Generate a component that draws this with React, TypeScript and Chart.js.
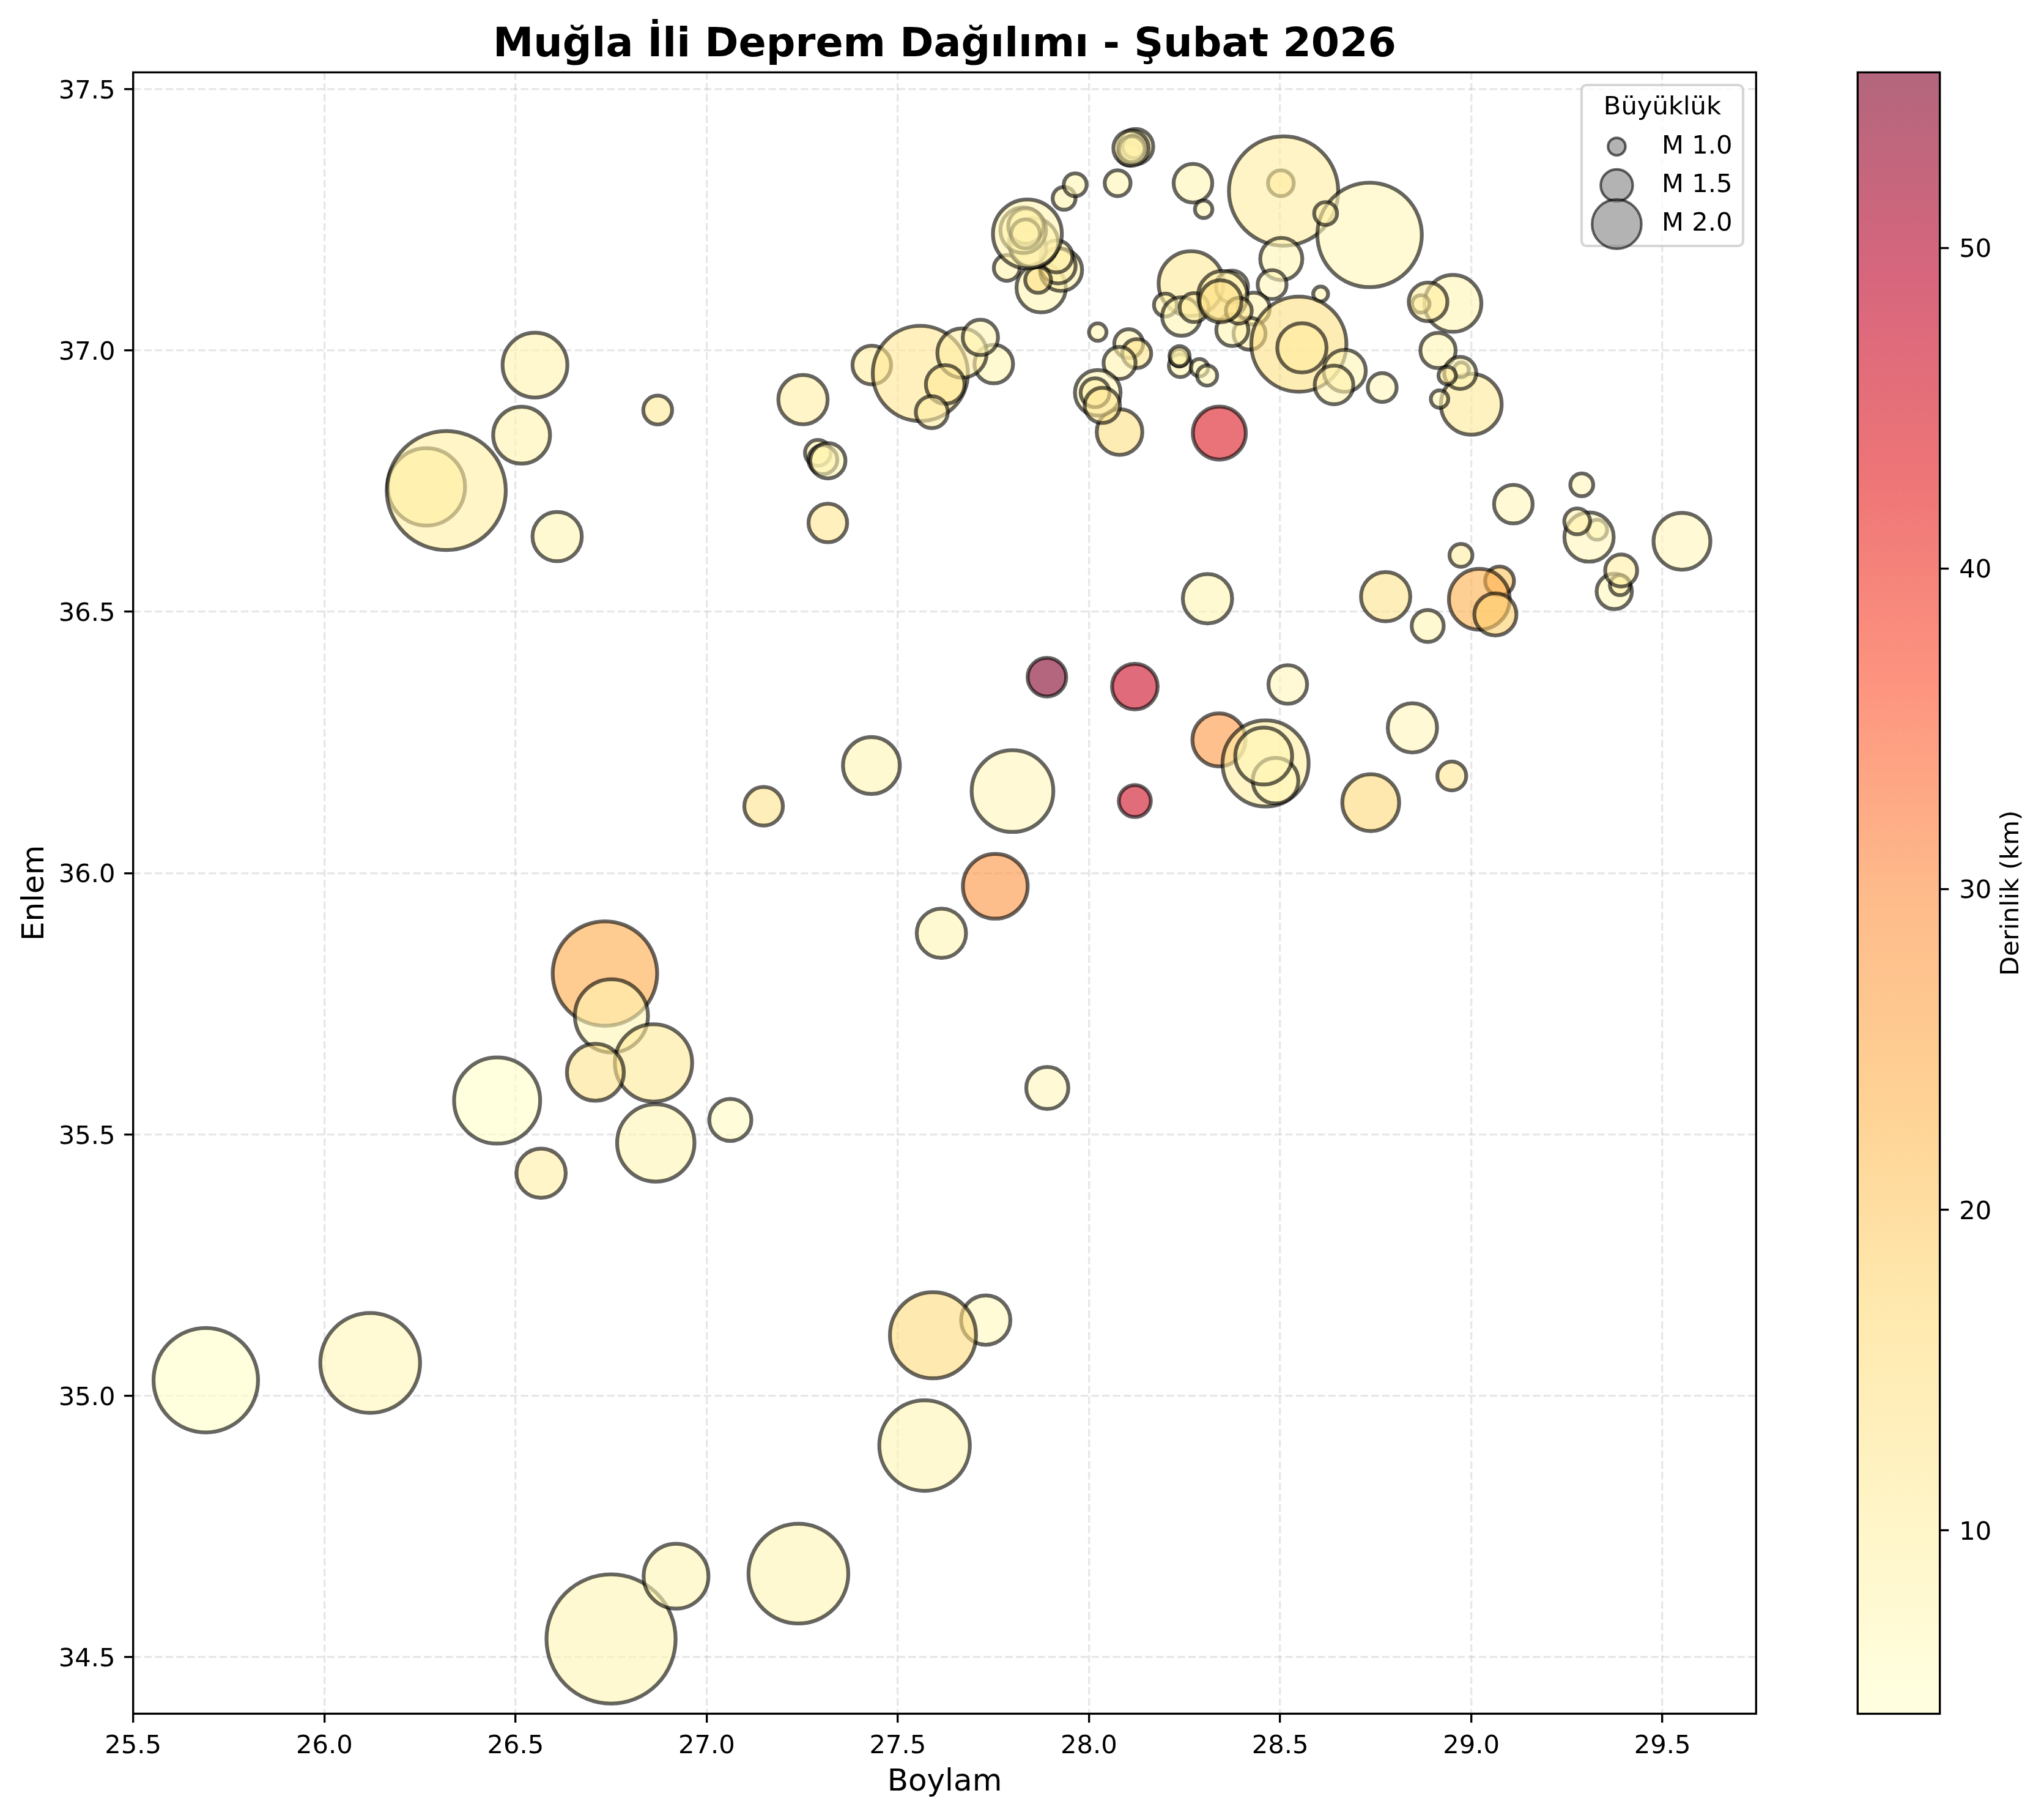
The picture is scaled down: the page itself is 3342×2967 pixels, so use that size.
import { useEffect, useRef } from "react";
import { Chart, registerables } from "chart.js";
Chart.register(...registerables);

const FONT = "'DejaVu Sans'";

const longitudes = [
  25.69, 26.12, 26.75, 26.92, 27.24, 27.57, 27.73, 27.592, 27.891, 27.614,
  27.755, 27.8, 27.149, 27.431, 26.734, 26.751, 26.861, 26.709, 26.452, 26.867,
  27.062, 26.567, 27.89, 28.12, 28.12, 28.341, 28.34, 28.462, 28.488, 28.457,
  28.52, 28.737, 28.846, 28.949, 28.31, 28.776, 28.886, 29.074, 29.021, 29.063,
  28.973, 29.11, 29.289, 29.329, 29.308, 29.277, 29.551, 29.374, 29.389, 29.392,
  26.267, 26.319, 26.551, 26.516, 26.609, 26.872, 27.252, 27.432, 27.291, 27.304,
  27.317, 27.317, 27.559, 27.751, 27.668, 27.716, 27.624, 27.589, 27.785, 27.875,
  27.927, 27.919, 27.915, 27.867, 27.842, 27.855, 27.828, 27.835, 27.834, 27.839,
  27.935, 27.964, 28.075, 28.105, 28.122, 28.118, 28.112, 28.11, 28.272, 28.3,
  28.502, 28.509, 28.734, 28.619, 28.503, 28.479, 28.606, 28.267, 28.431, 28.42,
  28.375, 28.2, 28.242, 28.275, 28.374, 28.35, 28.392, 28.344, 28.549, 28.557,
  28.669, 28.641, 28.767, 28.023, 28.104, 28.125, 28.08, 28.08, 28.023, 28.016,
  28.035, 28.239, 28.236, 28.237, 28.289, 28.309, 28.952, 28.868, 28.887, 28.913,
  29.0, 28.917, 28.974, 28.971, 28.937,
];

const latitudes = [
  35.03, 35.063, 34.535, 34.655, 34.66, 34.905, 35.145, 35.116, 35.589, 35.885,
  35.975, 36.157, 36.128, 36.206, 35.808, 35.727, 35.637, 35.619, 35.565, 35.484,
  35.528, 35.426, 36.375, 36.357, 36.138, 36.842, 36.255, 36.21, 36.177, 36.224,
  36.361, 36.135, 36.278, 36.186, 36.525, 36.529, 36.473, 36.559, 36.524, 36.495,
  36.608, 36.706, 36.743, 36.657, 36.643, 36.673, 36.635, 36.539, 36.551, 36.579,
  36.739, 36.732, 36.972, 36.838, 36.644, 36.886, 36.906, 36.972, 36.804, 36.791,
  36.789, 36.67, 36.956, 36.974, 36.995, 37.025, 36.935, 36.882, 37.158, 37.12,
  37.154, 37.162, 37.18, 37.135, 37.195, 37.206, 37.23, 37.238, 37.223, 37.223,
  37.291, 37.317, 37.32, 37.376, 37.39, 37.39, 37.385, 37.387, 37.32, 37.27,
  37.32, 37.305, 37.221, 37.262, 37.175, 37.126, 37.108, 37.128, 37.08, 37.032,
  37.039, 37.087, 37.065, 37.082, 37.122, 37.105, 37.076, 37.094, 37.012, 37.005,
  36.961, 36.934, 36.929, 37.035, 37.013, 36.994, 36.976, 36.844, 36.919, 36.919,
  36.895, 36.971, 36.986, 36.989, 36.967, 36.952, 37.09, 37.089, 37.093, 37.0,
  36.897, 36.907, 36.963, 36.957, 36.952,
];

const depths = [
  5, 7.5, 8, 8, 8, 8, 6.5, 16, 7, 8,
  29, 7, 14, 8, 25, 8, 12, 14, 5, 8,
  6, 10, 55.4, 47, 46, 44, 28, 11, 7, 8,
  7, 17, 7, 13, 8, 14, 8, 21, 24, 19,
  11, 7, 7, 9, 7, 9, 7, 7, 9, 10,
  11, 10.5, 9, 9, 8, 12, 10, 11, 9, 9,
  8, 13, 13, 8, 10, 8, 12, 10, 9, 8,
  9, 9, 9, 15, 9, 9, 9, 9, 9, 9,
  9, 8, 8, 9, 9, 9, 9, 9, 8, 8,
  10, 11, 7.5, 9, 8, 7, 8, 12, 9, 10,
  8, 9, 8, 11, 7, 10, 12, 15, 15, 11,
  8, 9, 7, 8, 9, 14, 9, 15, 8, 10,
  13, 8, 9, 9, 8, 8, 8, 9, 11, 8,
  12, 8, 10, 8, 12,
];

const magnitudes = [
  3.3, 3.2, 3.8, 2.4, 3.2, 3.0, 2.0, 2.9, 1.8, 2.0,
  2.4, 2.8, 1.7, 2.2, 3.3, 2.6, 2.7, 2.2, 2.9, 2.7,
  1.8, 2.0, 1.7, 1.9, 1.5, 2.1, 2.1, 2.9, 1.9, 2.2,
  1.7, 2.2, 2.0, 1.4, 2.0, 2.0, 1.5, 1.4, 2.3, 1.8,
  1.2, 1.7, 1.2, 1.1, 2.0, 1.3, 2.2, 1.6, 1.1, 1.5,
  2.7, 3.6, 2.4, 2.2, 2.0, 1.4, 2.0, 1.7, 1.3, 1.4,
  1.6, 1.7, 3.1, 1.7, 2.0, 1.6, 1.7, 1.5, 1.3, 2.0,
  1.8, 1.6, 1.5, 1.3, 1.6, 2.0, 1.9, 1.6, 1.4, 2.5,
  1.2, 1.2, 1.3, 1.2, 1.6, 1.2, 1.3, 1.6, 1.7, 1.0,
  1.3, 3.4, 3.3, 1.2, 1.8, 1.4, 0.9, 2.4, 1.5, 1.5,
  1.5, 1.2, 1.7, 1.4, 1.5, 2.0, 1.3, 1.8, 3.1, 2.0,
  1.8, 1.7, 1.4, 1.0, 1.4, 1.4, 1.5, 1.9, 1.9, 1.4,
  1.6, 1.2, 1.0, 1.1, 1.0, 1.1, 2.2, 1.0, 1.7, 1.6,
  2.3, 1.0, 0.9, 1.5, 1.0,
];

const xTickValues = [25.5, 26, 26.5, 27, 27.5, 28, 28.5, 29, 29.5];
const yTickValues = [34.5, 35, 35.5, 36, 36.5, 37, 37.5];
const depthTickValues = [10, 20, 30, 40, 50];
const legendMagnitudes = [1.0, 1.5, 2.0];

const DEPTH_MIN = 4.28;
const DEPTH_MAX = 55.47;

// YlOrRd
const colorStops = [
  [255, 255, 204],
  [255, 237, 160],
  [254, 217, 118],
  [254, 178, 76],
  [253, 141, 60],
  [252, 78, 42],
  [227, 26, 28],
  [189, 0, 38],
  [128, 0, 38],
];

const depthColor = (depth: number) => {
  const t = Math.min(1, Math.max(0, (depth - DEPTH_MIN) / (DEPTH_MAX - DEPTH_MIN)));
  const pos = t * (colorStops.length - 1);
  const i = Math.min(colorStops.length - 2, Math.floor(pos));
  const f = pos - i;
  const c = colorStops[i].map((v, k) => Math.round(v + (colorStops[i + 1][k] - v) * f));
  return `rgba(${c[0]},${c[1]},${c[2]},0.6)`;
};

// marker area grows with the cube of the magnitude
const markerRadius = (mag: number) => (28.5 * Math.pow(mag, 1.5)) / 2;

const LINE = 3.33;
const TICK = 14.6;
const EDGE = "rgba(0,0,0,0.6)";

const framePlugin = {
  id: "frame",
  afterDatasetsDraw(chart: any) {
    const { ctx, chartArea: a } = chart;
    ctx.save();
    ctx.strokeStyle = "#000";
    ctx.lineWidth = LINE;
    ctx.strokeRect(a.left, a.top, a.right - a.left, a.bottom - a.top);
    ctx.restore();
  },
};

const sizeLegendPlugin = {
  id: "sizeLegend",
  afterDraw(chart: any) {
    const { ctx } = chart;
    ctx.save();
    ctx.beginPath();
    ctx.roundRect(2586, 139, 264, 263, 8);
    ctx.fillStyle = "rgba(255,255,255,0.8)";
    ctx.fill();
    ctx.strokeStyle = "rgba(204,204,204,0.8)";
    ctx.lineWidth = 4.17;
    ctx.stroke();

    ctx.fillStyle = "#000";
    ctx.font = `41.67px ${FONT}`;
    ctx.textAlign = "center";
    ctx.textBaseline = "alphabetic";
    ctx.fillText("Büyüklük", 2718, 187);

    legendMagnitudes.forEach((mag, i) => {
      const y = 239.6 + i * 63.4;
      ctx.beginPath();
      ctx.arc(2643.4, y, markerRadius(mag), 0, Math.PI * 2);
      ctx.fillStyle = "rgba(128,128,128,0.6)";
      ctx.fill();
      ctx.strokeStyle = EDGE;
      ctx.lineWidth = 4.17;
      ctx.stroke();
      ctx.fillStyle = "#000";
      ctx.textAlign = "left";
      ctx.fillText(`M ${mag.toFixed(1)}`, 2717, y + 11);
    });
    ctx.restore();
  },
};

const depthLabelPlugin = {
  id: "depthLabel",
  afterDraw(chart: any) {
    const { ctx, chartArea: a } = chart;
    ctx.save();
    ctx.translate(289, (a.top + a.bottom) / 2);
    ctx.rotate(-Math.PI / 2);
    ctx.fillStyle = "#000";
    ctx.font = `41.67px ${FONT}`;
    ctx.textAlign = "center";
    ctx.textBaseline = "middle";
    ctx.fillText("Derinlik (km)", 0, 0);
    ctx.restore();
  },
};

const tickStyle = { color: "#000", font: { size: 41.67 }, padding: TICK, maxRotation: 0, autoSkip: false };
// the empty first line pushes vertical axis labels down onto their tick
const loweredTicks = { ...tickStyle, font: { size: 41.67, lineHeight: 0.2 } };

const App = () => {
  const mainRef = useRef<HTMLCanvasElement>(null);
  const barRef = useRef<HTMLCanvasElement>(null);

  useEffect(() => {
    if (!mainRef.current || !barRef.current) return;
    Chart.defaults.font.family = FONT;
    Chart.defaults.color = "#000";

    const gridStyle = {
      color: "rgba(176,176,176,0.3)",
      lineWidth: LINE,
      tickColor: "#000",
      tickWidth: LINE,
      tickLength: TICK,
    };
    const gridBorder = { display: false, dash: [12.3, 5.3] };

    const main = new Chart(mainRef.current, {
      type: "bubble",
      data: {
        datasets: [
          {
            label: "Deprem",
            data: longitudes.map((x, i) => ({ x, y: latitudes[i], r: markerRadius(magnitudes[i]) })),
            backgroundColor: depths.map(depthColor),
            borderColor: EDGE,
            borderWidth: 6.25,
          },
        ],
      },
      options: {
        animation: false,
        responsive: false,
        devicePixelRatio: 1,
        events: [],
        layout: { padding: { left: 0, right: 128.7, top: 0, bottom: 0 } },
        plugins: {
          legend: { display: false },
          tooltip: { enabled: false },
          title: {
            display: true,
            text: "Muğla İli Deprem Dağılımı - Şubat 2026",
            fullSize: false,
            color: "#000",
            font: { size: 66.67, weight: "bold", lineHeight: 1 },
            padding: { top: 41, bottom: 10.63 },
          },
        },
        scales: {
          x: {
            type: "linear",
            min: 25.5,
            max: 29.745,
            afterBuildTicks: (s: any) => {
              s.ticks = xTickValues.map((value) => ({ value }));
            },
            afterFit: (s: any) => {
              s.height = 165.6;
            },
            grid: gridStyle,
            border: gridBorder,
            ticks: { ...tickStyle, callback: (v: any) => Number(v).toFixed(1) },
            title: {
              display: true,
              text: "Boylam",
              color: "#000",
              font: { size: 50 },
              padding: { top: 0, bottom: 23 },
            },
          },
          y: {
            type: "linear",
            min: 34.392,
            max: 37.532,
            afterBuildTicks: (s: any) => {
              s.ticks = yTickValues.map((value) => ({ value }));
            },
            afterFit: (s: any) => {
              s.width = 217.7;
            },
            grid: gridStyle,
            border: gridBorder,
            ticks: { ...loweredTicks, callback: (v: any) => ["", Number(v).toFixed(1)] },
            title: {
              display: true,
              text: "Enlem",
              color: "#000",
              font: { size: 50 },
              padding: { top: 28, bottom: 0 },
            },
          },
        },
      } as any,
      plugins: [framePlugin, sizeLegendPlugin],
    });

    const bar = new Chart(barRef.current, {
      type: "bar",
      data: {
        labels: ["Derinlik"],
        datasets: [
          {
            label: "Derinlik (km)",
            data: [[DEPTH_MIN, DEPTH_MAX]],
            barPercentage: 1,
            categoryPercentage: 1,
            borderWidth: 0,
            borderSkipped: false,
            backgroundColor: (c: any) => {
              const a = c.chart.chartArea;
              if (!a) return "rgba(0,0,0,0)";
              const g = c.chart.ctx.createLinearGradient(0, a.bottom, 0, a.top);
              colorStops.forEach((s, i) => {
                g.addColorStop(i / (colorStops.length - 1), `rgba(${s[0]},${s[1]},${s[2]},0.6)`);
              });
              return g;
            },
          },
        ],
      },
      options: {
        animation: false,
        responsive: false,
        devicePixelRatio: 1,
        events: [],
        layout: { padding: { left: 37.3, right: 0, top: 118.3, bottom: 165.5 } },
        plugins: { legend: { display: false }, tooltip: { enabled: false } },
        scales: {
          x: { display: false },
          y: {
            position: "right",
            min: DEPTH_MIN,
            max: DEPTH_MAX,
            afterBuildTicks: (s: any) => {
              s.ticks = depthTickValues.map((value) => ({ value }));
            },
            afterFit: (s: any) => {
              s.width = 170.3;
            },
            grid: {
              drawOnChartArea: false,
              tickColor: "#000",
              tickWidth: LINE,
              tickLength: TICK,
            },
            border: { display: false },
            ticks: { ...loweredTicks, padding: 17, callback: (v: any) => ["", String(v)] },
          },
        },
      } as any,
      plugins: [framePlugin, depthLabelPlugin],
    });

    return () => {
      main.destroy();
      bar.destroy();
    };
  }, []);

  return (
    <div style={{ position: "absolute", left: 0, top: 0, width: 3342, height: 2967, background: "#fff" }}>
      <canvas ref={mainRef} width={3000} height={2967} style={{ position: "absolute", left: 0, top: 0 }} />
      <canvas ref={barRef} width={342} height={2967} style={{ position: "absolute", left: 3000, top: 0 }} />
    </div>
  );
};

export default App;
